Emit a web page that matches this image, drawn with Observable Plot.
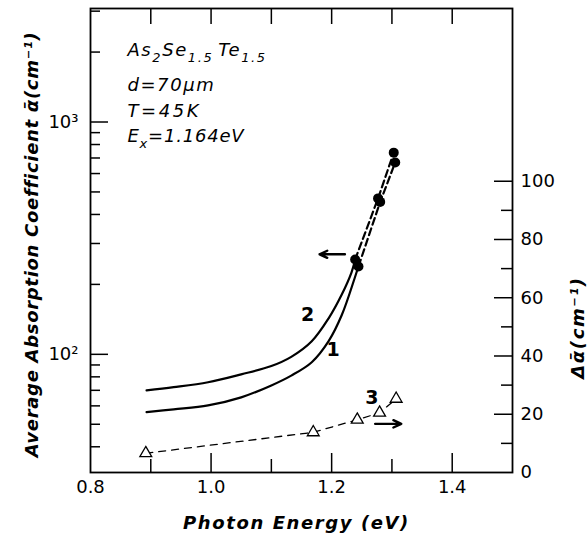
<!DOCTYPE html>
<html><head><meta charset="utf-8">
<script src="https://cdn.jsdelivr.net/npm/d3@7"></script>
<script src="https://cdn.jsdelivr.net/npm/@observablehq/plot@0.6"></script>
<style>
body{margin:0;background:#fff;}
#wrap{position:relative;width:588px;height:535px;background:#fff;}
#wrap svg{position:absolute;left:0;top:0;}
</style></head><body><div id="wrap"></div>
<script>
// ---- data ----
const curve1E = [0.893, 0.938, 0.995, 1.05, 1.10, 1.133, 1.167, 1.195, 1.217, 1.238, 1.2445];
const curve1A = [56.4, 58.0, 60.3, 65.3, 73.5, 81.0, 92.5, 114.0, 148.0, 212.0, 239.3];
const curve2E = [0.893, 0.938, 0.995, 1.05, 1.10, 1.133, 1.167, 1.195, 1.217, 1.233, 1.239];
const curve2A = [70.0, 72.2, 75.8, 82.0, 89.0, 97.5, 113.8, 142.9, 181.3, 225.3, 255.7];
const dots1E = [1.2445, 1.2805, 1.3055];
const dots1A = [239, 453, 670];
const dots2E = [1.239, 1.277, 1.303];
const dots2A = [256, 469, 738];
const tri3E = [0.8917, 1.1695, 1.2425, 1.2795, 1.307];
const tri3D = [6.6, 13.8, 18.1, 20.5, 25.3];

const xLabelTicks = [0.8, 1.0, 1.2, 1.4];
const xMajorTicks = [1.0, 1.2, 1.4];
const xMinorTicks = [0.9, 1.1, 1.3];
const xTopTicks = [0.9, 1.0, 1.1, 1.2, 1.3, 1.4];
const yMajorTicks = [100, 1000];
const yMajorLabels = ["10²", "10³"];
const yMinorTicks = [40, 50, 60, 70, 80, 90, 200, 300, 400, 500, 600, 700, 800, 900, 2000, 3000];
const rMajorTicks = [20, 40, 60, 80, 100];
const rLabelTicks = [0, 20, 40, 60, 80, 100];
const rMinorTicks = [10, 30, 50, 70, 90];

const xTitle = "Photon Energy (eV)";
const yTitle = "Average Absorption Coefficient ᾱ(cm⁻¹)";
const rTitle = "Δᾱ(cm⁻¹)";
const curveLabels = ["2", "1"];
const curveLabelE = [1.16, 1.2025];
const curveLabelA = [148, 104];
const label3 = ["3"];
const label3E = [1.2667];
const label3D = [25.7];
const arrowL = {x1: [1.222], x2: [1.18], y: [269.5]};
const arrowR = {x1: [1.2722], x2: [1.3155], y: [16.7]};
const compE = 0.862;
const compA = [1919, 1355, 1047, 818];

// ---- layout ----
const common = {width: 588, height: 535, marginLeft: 90, marginRight: 76, marginTop: 8, marginBottom: 63,
  style: {background: "transparent", fontFamily: "DejaVu Sans", overflow: "visible", color: "black"}};
const xScale = {type: "linear", domain: [0.8, 1.5], axis: null, label: null};
const tickFmtNone = () => "";

const seq = (arr) => arr.map((_, i) => i);

const p1 = Plot.plot({
  ...common,
  x: xScale,
  y: {type: "log", domain: [31, 3080], axis: null, label: null},
  marks: [
    Plot.frame({stroke: "black", strokeWidth: 1.8}),
    Plot.axisY(yMajorTicks, {anchor: "left", tickSize: -18, tickFormat: tickFmtNone, label: null, strokeWidth: 1.5}),
    Plot.axisY(yMinorTicks, {anchor: "left", tickSize: -10, tickFormat: tickFmtNone, label: null, strokeWidth: 1.5}),
    Plot.axisY(yMajorTicks, {anchor: "left", tickSize: 0, tickPadding: 12, tickFormat: (d) => yMajorLabels[yMajorTicks.indexOf(d)], label: null, fontSize: 18}),
    Plot.axisX(xMajorTicks, {anchor: "bottom", tickSize: -19, tickFormat: tickFmtNone, label: null, strokeWidth: 1.5}),
    Plot.axisX(xMinorTicks, {anchor: "bottom", tickSize: -13, tickFormat: tickFmtNone, label: null, strokeWidth: 1.5}),
    Plot.axisX(xTopTicks, {anchor: "top", tickSize: -15, tickFormat: tickFmtNone, label: null, strokeWidth: 1.5}),
    Plot.axisX(xLabelTicks, {anchor: "bottom", tickSize: 0, tickPadding: 8, tickFormat: d => d.toFixed(1), label: null, fontSize: 18}),
    Plot.line(seq(curve1E), {x: curve1E, y: curve1A, curve: "catmull-rom", strokeWidth: 2.2}),
    Plot.line(seq(curve2E), {x: curve2E, y: curve2A, curve: "catmull-rom", strokeWidth: 2.2}),
    Plot.line(seq(dots1E), {x: dots1E, y: dots1A, strokeWidth: 2.2, strokeDasharray: "7,4"}),
    Plot.line(seq(dots2E), {x: dots2E, y: dots2A, strokeWidth: 2.2, strokeDasharray: "7,4"}),
    Plot.dot(seq(dots1E), {x: dots1E, y: dots1A, r: 5, fill: "black"}),
    Plot.dot(seq(dots2E), {x: dots2E, y: dots2A, r: 5, fill: "black"}),
    Plot.arrow([0], {x1: arrowL.x1, x2: arrowL.x2, y1: arrowL.y, y2: arrowL.y, strokeWidth: 2.4, headLength: 8, headAngle: 50}),
    Plot.text(curveLabels, {x: curveLabelE, y: curveLabelA, text: d => d, fontSize: 19, fontWeight: "bold", textAnchor: "middle", lineAnchor: "middle"}),
    Plot.text([xTitle], {frameAnchor: "bottom", dx: -5, dy: 56, textAnchor: "middle", lineAnchor: "bottom", fontSize: 18, fontWeight: "bold", fontStyle: "italic"}),
    Plot.text([yTitle], {frameAnchor: "left", rotate: -90, dx: -53, dy: 4, textAnchor: "middle", lineAnchor: "bottom", fontSize: 18, fontWeight: "bold", fontStyle: "italic"})
  ]
});

const p2 = Plot.plot({
  ...common,
  x: xScale,
  y: {type: "linear", domain: [0, 159.3], axis: null, label: null},
  marks: [
    Plot.line(seq(tri3E), {x: tri3E, y: tri3D, strokeWidth: 1.3, strokeDasharray: "7,6"}),
    Plot.dot(seq(tri3E), {x: tri3E, y: tri3D, symbol: "triangle", r: 4.4, fill: "white", stroke: "black", strokeWidth: 1.3}),
    Plot.axisY(rMajorTicks, {anchor: "right", tickSize: -19, tickFormat: tickFmtNone, label: null, strokeWidth: 1.5}),
    Plot.axisY(rMinorTicks, {anchor: "right", tickSize: -12, tickFormat: tickFmtNone, label: null, strokeWidth: 1.5}),
    Plot.axisY(rLabelTicks, {anchor: "right", tickSize: 0, tickPadding: 8, tickFormat: d => String(d), label: null, fontSize: 18}),
    Plot.arrow([0], {x1: arrowR.x1, x2: arrowR.x2, y1: arrowR.y, y2: arrowR.y, strokeWidth: 2.4, headLength: 8, headAngle: 50}),
    Plot.text(label3, {x: label3E, y: label3D, text: d => d, fontSize: 19, fontWeight: "bold", textAnchor: "middle", lineAnchor: "middle"}),
    Plot.text([rTitle], {frameAnchor: "right", rotate: -90, dx: 71, dy: 87, textAnchor: "middle", lineAnchor: "bottom", fontSize: 18, fontWeight: "bold", fontStyle: "italic"})
  ]
});

// letter-spacing for the axis titles
const spacing = new Map([[xTitle, "1.6px"], [yTitle, "0.7px"], [rTitle, "1.6px"]]);
[p1, p2].forEach(svg => d3.select(svg).selectAll("text").each(function () {
  const s = spacing.get(this.textContent);
  if (s) this.setAttribute("letter-spacing", s);
}));

// composition annotation (positioned with the plot's own scales)
(function addComp(svg) {
  const sx = svg.scale("x"), sy = svg.scale("y");
  const g = d3.select(svg).append("g")
    .attr("font-family", "DejaVu Sans").attr("font-style", "italic").attr("text-anchor", "start")
    .attr("font-size", 18).attr("letter-spacing", "1.6px").attr("fill", "black");
  const lines = [
    [["As", 0], ["2", 1], ["Se", 0], ["1.5", 1], [" ", 2], ["Te", 0], ["1.5", 1]],
    [["d=70μm", 0]],
    [["T=45K", 0]],
    [["E", 0], ["x", 1], ["=1.164eV", 0]]
  ];
  lines.forEach((parts, i) => {
    const t = g.append("text").attr("x", sx.apply(compE)).attr("y", sy.apply(compA[i]));
    if (i === 2) t.attr("letter-spacing", "2.6px");
    if (i === 3) t.attr("letter-spacing", "0.8px");
    let shifted = false;
    parts.forEach(([s, kind]) => {
      const ts = t.append("tspan").text(s);
      if (kind === 1) { ts.attr("font-size", 13); if (!shifted) { ts.attr("dy", 6); shifted = true; } }
      else { if (kind === 2) ts.attr("font-size", 10); if (shifted) { ts.attr("dy", -6); shifted = false; } }
    });
  });
})(p1);

const wrap = document.getElementById("wrap");
wrap.appendChild(p1);
wrap.appendChild(p2);
</script></body></html>
